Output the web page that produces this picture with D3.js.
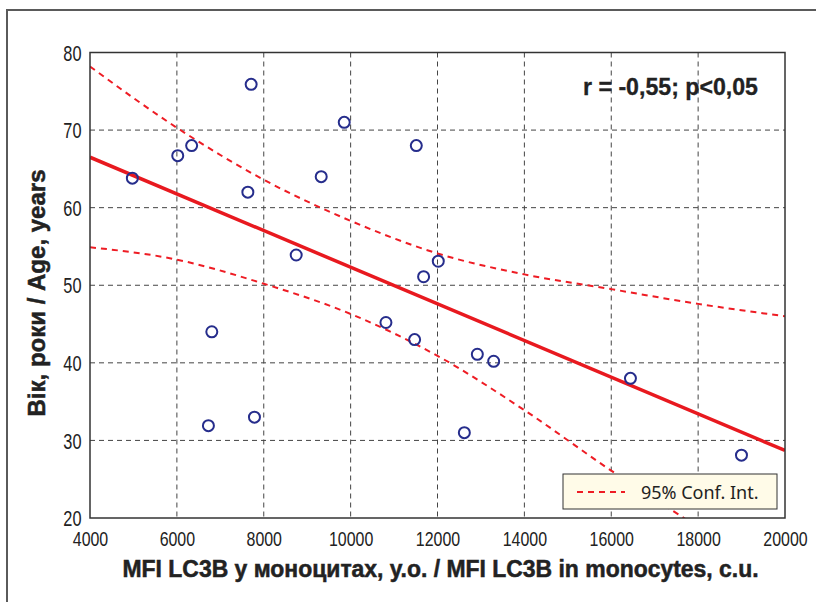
<!DOCTYPE html>
<html>
<head>
<meta charset="utf-8">
<script src="https://cdn.jsdelivr.net/npm/d3@7"></script>
<style>
  html, body { margin: 0; padding: 0; background: #fff; }
  svg { display: block; }
</style>
</head>
<body>
<svg id="chart" width="816" height="602"></svg>
<script>
// ---- data ----
const mfiValues = [4975, 6020, 6340, 7710, 7634, 6804, 6726, 7786, 8747, 9323, 9853,
                   10813, 11473, 11512, 11680, 12018, 12618, 12917, 13293, 16442, 18998];
const ageValues = [63.8, 66.7, 68.0, 75.9, 62.0, 44.0, 31.9, 33.0, 53.9, 64.0, 71.0,
                   45.2, 43.0, 68.0, 51.1, 53.1, 31.0, 41.1, 40.2, 38.0, 28.1];

const fitX = [4000, 20000];
const fitY = [66.5, 28.7];

const ciX     = [4000, 6000, 8000, 10000, 12000, 14000, 16000, 18000, 20000];
const ciUpper = [78.2, 70.3, 63.6, 58.3, 54.1, 51.4, 49.5, 47.6, 46.0];
const ciLower = [54.9, 53.3, 50.2, 46.3, 40.9, 33.9, 26.1, 18.8, 11.4];

const xTicks = [4000, 6000, 8000, 10000, 12000, 14000, 16000, 18000, 20000];
const yTicks = [20, 30, 40, 50, 60, 70, 80];

const statText   = "r = -0,55; p<0,05";
const legendText = "95% Conf. Int.";
const xTitle = "MFI LC3B у моноцитах, у.о. / MFI LC3B in monocytes, c.u.";
const yTitle = "Вік, роки / Age, years";

// ---- layout ----
const svg = d3.select("#chart");
const L = 90, R = 785, T = 52.5, B = 518;
const x = d3.scaleLinear().domain([4000, 20000]).range([L, R]);
const y = d3.scaleLinear().domain([20, 80]).range([B, T]);

const sans = "'Liberation Sans', Arial, sans-serif";

// outer frame
svg.append("rect").attr("x", 7).attr("y", 10).attr("width", 830).attr("height", 620)
  .attr("fill", "none").attr("stroke", "#5a5a5a").attr("stroke-width", 2);

// plot background
svg.append("rect").attr("x", L).attr("y", T).attr("width", R - L).attr("height", B - T)
  .attr("fill", "#fff");

// clip
svg.append("defs").append("clipPath").attr("id", "plotclip")
  .append("rect").attr("x", L).attr("y", T).attr("width", R - L).attr("height", B - T);

// grid
const grid = svg.append("g");
grid.selectAll("line.vx").data(xTicks.slice(1, -1)).enter().append("line")
  .attr("x1", d => x(d)).attr("x2", d => x(d)).attr("y1", T).attr("y2", B)
  .attr("stroke", "#444").attr("stroke-width", 1).attr("stroke-dasharray", "5,4");
grid.selectAll("line.hy").data(yTicks.slice(1, -1)).enter().append("line")
  .attr("y1", d => y(d)).attr("y2", d => y(d)).attr("x1", L).attr("x2", R)
  .attr("stroke", "#444").attr("stroke-width", 1).attr("stroke-dasharray", "5,4");

// CI lines
const plot = svg.append("g").attr("clip-path", "url(#plotclip)");
const ciLine = d3.line().x(d => x(d[0])).y(d => y(d[1])).curve(d3.curveMonotoneX);
[ciUpper, ciLower].forEach(arr => {
  plot.append("path").datum(ciX.map((v, i) => [v, arr[i]]))
    .attr("d", ciLine).attr("fill", "none")
    .attr("stroke", "#ee1c24").attr("stroke-width", 2).attr("stroke-dasharray", "6,5");
});

// regression line
plot.append("path").datum(fitX.map((v, i) => [v, fitY[i]]))
  .attr("d", d3.line().x(d => x(d[0])).y(d => y(d[1])))
  .attr("fill", "none").attr("stroke", "#e8191f").attr("stroke-width", 3.5);

// points
svg.append("g").selectAll("circle").data(mfiValues.map((v, i) => [v, ageValues[i]]))
  .enter().append("circle")
  .attr("cx", d => x(d[0])).attr("cy", d => y(d[1])).attr("r", 5.5)
  .attr("fill", "none").attr("stroke", "#262d8c").attr("stroke-width", 2);

// legend
const lg = svg.append("g");
lg.append("rect").attr("x", 563).attr("y", 474).attr("width", 214).attr("height", 35)
  .attr("fill", "#fffbe8").attr("stroke", "#333").attr("stroke-width", 1);
lg.append("line").attr("x1", 577).attr("x2", 625).attr("y1", 492).attr("y2", 492)
  .attr("stroke", "#ee1c24").attr("stroke-width", 2).attr("stroke-dasharray", "6,5");
lg.append("text").attr("x", 641).attr("y", 498.5).text(legendText)
  .attr("font-family", "'Noto Sans', 'Open Sans', sans-serif").attr("font-size", 18)
  .attr("fill", "#222");

// stat text
svg.append("text").attr("x", 583).attr("y", 95).text(statText)
  .attr("font-family", sans).attr("font-weight", "bold").attr("font-size", 23)
  .attr("stroke", "#222").attr("stroke-width", 0.3)
  .attr("textLength", 175).attr("lengthAdjust", "spacingAndGlyphs").attr("fill", "#222");

// plot border
svg.append("rect").attr("x", L).attr("y", T).attr("width", R - L).attr("height", B - T)
  .attr("fill", "none").attr("stroke", "#333").attr("stroke-width", 1.5);

// axes (condensed digits via horizontal scale)
const xAxis = svg.append("g").attr("transform", `translate(0,${B})`)
  .call(d3.axisBottom(x).tickValues(xTicks).tickSize(0).tickFormat(d3.format("d")));
xAxis.select(".domain").remove();
xAxis.selectAll("text").attr("y", 28.5).attr("dy", 0)
  .attr("font-family", sans).attr("font-size", 21).attr("fill", "#222")
  .attr("transform", "scale(0.76,1)");

const ys = 0.76;
const yAxis = svg.append("g").attr("transform", `translate(${L},0)`)
  .call(d3.axisLeft(y).tickValues(yTicks).tickSize(0).tickFormat(d3.format("d")));
yAxis.select(".domain").remove();
yAxis.selectAll("text").attr("x", -8.5 / ys).attr("dy", "0.36em")
  .attr("font-family", sans).attr("font-size", 21.5).attr("fill", "#222")
  .attr("transform", `scale(${ys},1)`);

// titles
svg.append("text").attr("x", 440.5).attr("y", 577).attr("text-anchor", "middle")
  .text(xTitle).attr("font-family", sans).attr("font-weight", "bold")
  .attr("font-size", 23).attr("fill", "#222").attr("stroke", "#222").attr("stroke-width", 0.5)
  .attr("textLength", 636).attr("lengthAdjust", "spacingAndGlyphs");

svg.append("text").attr("transform", "translate(45,293) rotate(-90)")
  .attr("text-anchor", "middle").text(yTitle)
  .attr("font-family", sans).attr("font-weight", "bold")
  .attr("font-size", 23).attr("fill", "#222").attr("stroke", "#222").attr("stroke-width", 0.5)
  .attr("textLength", 247).attr("lengthAdjust", "spacingAndGlyphs");
</script>
</body>
</html>
